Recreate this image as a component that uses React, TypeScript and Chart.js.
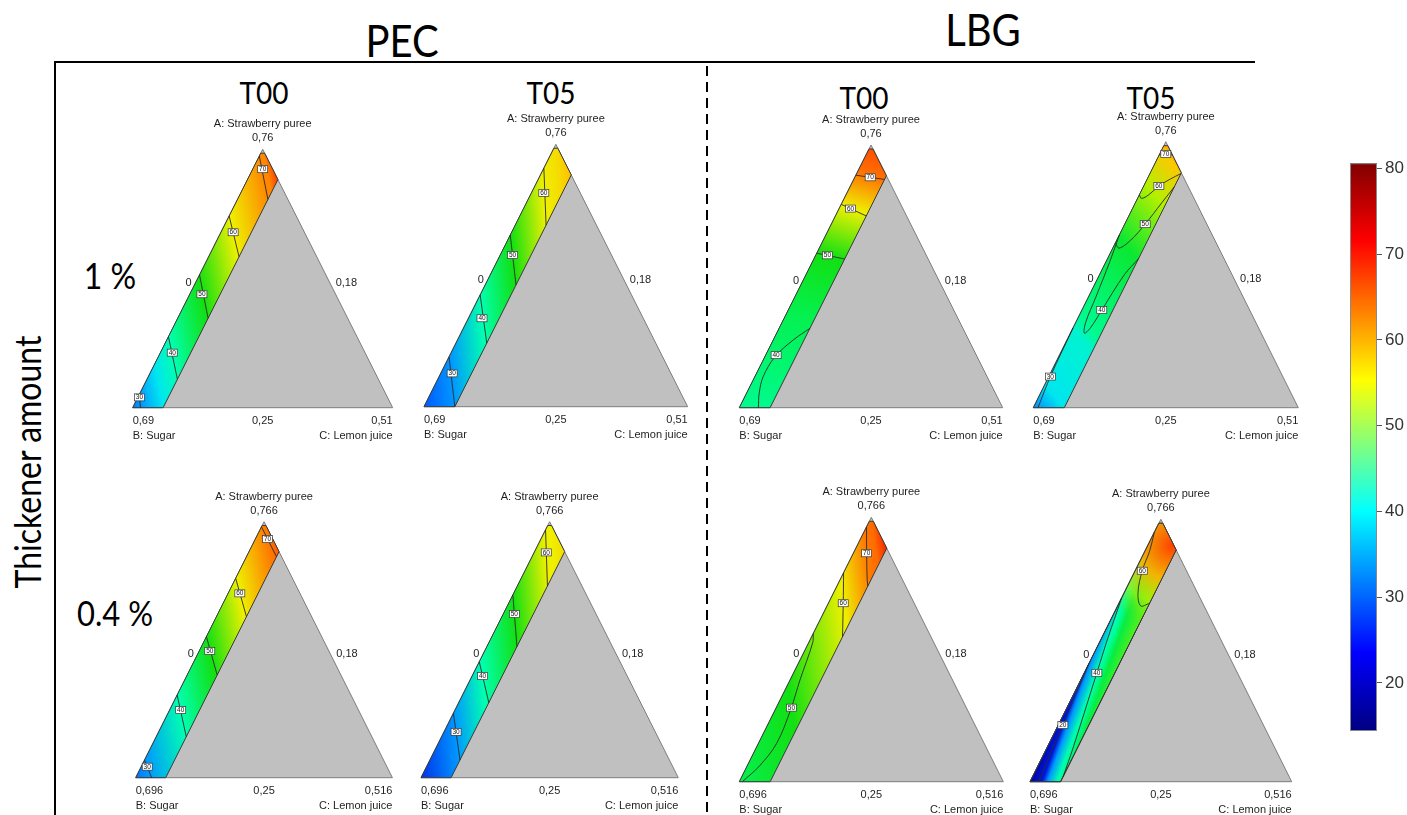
import React, { useEffect, useRef } from 'react';
import { Chart, registerables } from 'chart.js';

Chart.register(...registerables);

type Pt = [number, number];
type Probe = [number, number, number];

// ---------------- texts ----------------
const groupLabels = ['PEC', 'LBG'];
const timeLabels = ['T00', 'T05'];
const thickenerLabels = ['1 %', '0.4 %'];
const yAxisTitle = 'Thickener amount';
const componentNames = ['A: Strawberry puree', 'B: Sugar', 'C: Lemon juice'];
const vertexTicksRow1 = ['0,76', '0,69', '0,51'];
const vertexTicksRow2 = ['0,766', '0,696', '0,516'];
const edgeTicks = ['0', '0,25', '0,18'];

// feasible region of the mixture (pseudo-component fractions)
const lemonMax = 0.117;
const pureeTop = 0.985;

// colour scale used inside the ternary panels
const fillValues = [15, 20, 25, 30, 35, 40, 45, 50, 55, 60, 65, 70, 75, 80];
const fillColors = ['#000096', '#0018dc', '#0058ff', '#0098ff', '#00e0ff', '#00ffb0', '#00f560', '#12e012', '#8cf000', '#eef000', '#ffbe00', '#ff7a00', '#ff3000', '#d20000'];

// colour bar
const barTicks = [20, 30, 40, 50, 60, 70, 80];
const barMin = 14.4;
const barMax = 80.6;
const jetValues = [14.4, 23.5, 40, 55.3, 71.5, 80.6];
const jetColors = ['#000080', '#0000ff', '#00ffff', '#ffff00', '#ff0000', '#800000'];

// ---------------- panel data: [a (puree), t (share of lemon range)] ----------------
// PEC T00, 1 %
const pecT00r1Levels = [30, 40, 50, 60, 70];
const pecT00r1Lines: Pt[][] = [
  [[0.049, 0], [0, 0.26]],
  [[0.275, 0], [0.11, 1]],
  [[0.514, 0], [0.346, 1]],
  [[0.742, 0], [0.584, 1]],
  [[0.974, 0], [0.806, 1]],
];
const pecT00r1Labels: Pt[] = [[0.04, 0.05], [0.213, 0.39], [0.439, 0.4], [0.679, 0.4], [0.923, 0.5]];
const pecT00r1Probes: Probe[] = [[0, 0, 28], [0.04, 0.05, 30], [0, 1, 36], [0.213, 0.39, 40], [0.439, 0.4, 50], [0.679, 0.4, 60], [0.923, 0.5, 69], [1, 0, 69], [0.883, 1, 74]];

// PEC T05, 1 %
const pecT05r1Levels = [30, 40, 50, 60];
const pecT05r1Lines: Pt[][] = [
  [[0.19, 0], [0, 1]],
  [[0.426, 0], [0.242, 1]],
  [[0.654, 0], [0.464, 1]],
  [[0.909, 0], [0.692, 1]],
];
const pecT05r1Labels: Pt[] = [[0.127, 0.37], [0.337, 0.44], [0.578, 0.4], [0.815, 0.4]];
const pecT05r1Probes: Probe[] = [[0, 0, 25], [0.127, 0.37, 30], [0.337, 0.44, 40], [0.578, 0.4, 50], [0.815, 0.4, 60], [1, 0, 62], [0.883, 1, 65]];

// LBG T00, 1 %
const lbgT00r1Levels = [40, 50, 60, 70];
const lbgT00r1Lines: Pt[][] = [
  [[0.302, 1], [0.258, 0.65], [0.194, 0.33], [0.118, 0.27], [0.055, 0.41], [0, 0.62]],
  [[0.588, 0], [0.566, 1]],
  [[0.774, 0], [0.73, 1]],
  [[0.885, 0], [0.869, 1]],
];
const lbgT00r1Labels: Pt[] = [[0.2, 0.34], [0.58, 0.38], [0.758, 0.37], [0.877, 0.5]];
const lbgT00r1Probes: Probe[] = [[0, 0, 42], [0.35, 0.5, 46], [0.58, 0.38, 50], [0.758, 0.37, 60], [0.877, 0.5, 70], [0.883, 1, 71], [1, 0, 73]];

// LBG T05, 1 %
const lbgT05r1Levels = [30, 40, 50, 60, 70];
const lbgT05r1Lines: Pt[][] = [
  [[0, 0.15], [0.12, 0.05], [0.3, 0]],
  [[0.56, 1], [0.5, 0.8], [0.367, 0.64], [0.3, 0.56], [0.28, 0.45], [0.32, 0.32], [0.417, 0.24], [0.55, 0.12], [0.65, 0]],
  [[0.62, 0], [0.6, 0.2], [0.63, 0.45], [0.69, 0.66], [0.77, 0.85], [0.83, 1]],
  [[0.8, 0], [0.787, 0.13], [0.8, 0.3], [0.833, 0.49], [0.86, 0.75], [0.88, 1]],
  [[0.95, 0], [0.954, 0.5], [0.95, 1]],
];
const lbgT05r1Labels: Pt[] = [[0.117, 0.05], [0.367, 0.64], [0.69, 0.66], [0.833, 0.49], [0.954, 0.5]];
const lbgT05r1Probes: Probe[] = [[0, 0, 29], [0, 1, 36], [0.3, 0, 38], [0.3, 0.5, 42], [0.6, 0.5, 48], [0.8, 0.5, 57], [0.883, 1, 64], [1, 0, 67]];

// PEC T00, 0.4 %
const pecT00r2Levels = [30, 40, 50, 60, 70];
const pecT00r2Lines: Pt[][] = [
  [[0.069, 0], [0, 0.53]],
  [[0.323, 0], [0.16, 1]],
  [[0.551, 0], [0.401, 1]],
  [[0.779, 0], [0.629, 1]],
  [[0.98, 0], [0.863, 1]],
];
const pecT00r2Labels: Pt[] = [[0.043, 0.2], [0.264, 0.37], [0.495, 0.35], [0.72, 0.39], [0.932, 0.7]];
const pecT00r2Probes: Probe[] = [[0, 0, 27], [0.043, 0.2, 30], [0.264, 0.37, 40], [0.495, 0.35, 50], [0.72, 0.39, 60], [0.932, 0.7, 70], [1, 0, 70], [0.883, 1, 72]];

// PEC T05, 0.4 %
const pecT05r2Levels = [30, 40, 50, 60];
const pecT05r2Lines: Pt[][] = [
  [[0.252, 0], [0.069, 1]],
  [[0.453, 0], [0.293, 1]],
  [[0.714, 0], [0.512, 1]],
  [[0.968, 0], [0.749, 1]],
];
const pecT05r2Labels: Pt[] = [[0.179, 0.4], [0.397, 0.35], [0.639, 0.37], [0.88, 0.4]];
const pecT05r2Probes: Probe[] = [[0, 0, 22], [0.179, 0.4, 30], [0.397, 0.35, 40], [0.639, 0.37, 50], [0.88, 0.4, 60], [1, 0, 60], [0.883, 1, 62]];

// LBG T00, 0.4 %
const lbgT00r2Levels = [50, 60, 70];
const lbgT00r2Lines: Pt[][] = [
  [[0.56, 0], [0.526, 0.13], [0.385, 0.32], [0.271, 0.5], [0.145, 0.59], [0.06, 0.4], [0, 0.1]],
  [[0.79, 0], [0.675, 0.48], [0.548, 1]],
  [[0.964, 0], [0.864, 0.43], [0.763, 0.88], [0.74, 1]],
];
const lbgT00r2Labels: Pt[] = [[0.28, 0.49], [0.675, 0.48], [0.864, 0.43]];
const lbgT00r2Probes: Probe[] = [[0, 0, 46], [0, 1, 48], [0.28, 0.49, 50], [0.675, 0.48, 60], [0.864, 0.43, 70], [1, 0, 71], [0.883, 1, 76]];

// LBG T05, 0.4 %
const lbgT05r2Levels = [20, 40, 60];
const lbgT05r2Lines: Pt[][] = [
  [[0, 0.28], [0.216, 0.15], [0.45, 0]],
  [[0.02, 1], [0.133, 0.85], [0.415, 0.41], [0.55, 0.2], [0.7, 0]],
  [[0.95, 0], [0.88, 0.15], [0.804, 0.23], [0.72, 0.45], [0.67, 0.75], [0.68, 1]],
];
const lbgT05r2Labels: Pt[] = [[0.216, 0.15], [0.415, 0.41], [0.804, 0.23]];
const lbgT05r2Probes: Probe[] = [[0, 0, 16], [0.216, 0.15, 20], [0.5, 0, 30], [0.415, 0.41, 40], [0, 1, 42], [0.6, 0.5, 47], [0.883, 1, 55]];
const lbgT05r2HotCenter: Pt = [0.9, 0.95];
const lbgT05r2HotValues = [74, 66, 58, 52];

// ---------------- layout (styles, not data) ----------------
// [left of B vertex, bottom line, width, height] in page pixels
const panelFrames = [
  [132.7, 407.7, 260, 258.4],
  [424, 406.7, 263.7, 262.4],
  [739.3, 407.7, 263.4, 262.7],
  [1033.3, 407.7, 265, 266],
  [135.7, 777.7, 256.7, 256],
  [421, 777.7, 257.3, 256],
  [739.3, 781.7, 264, 264.4],
  [1030, 781.7, 261.7, 262.4],
];
const hotOffsets = [0, 0.4, 0.7, 1];
const hotAlphas = [1, 0.92, 0.6, 0];

type Panel = {
  levels: number[];
  lines: Pt[][];
  labels: Pt[];
  probes: Probe[];
  axisDeg: number;
  row: number;
  hot?: { at: Pt; values: number[]; radius: number };
};

const panels: Panel[] = [
  { levels: pecT00r1Levels, lines: pecT00r1Lines, labels: pecT00r1Labels, probes: pecT00r1Probes, axisDeg: 11, row: 0 },
  { levels: pecT05r1Levels, lines: pecT05r1Lines, labels: pecT05r1Labels, probes: pecT05r1Probes, axisDeg: 5, row: 0 },
  { levels: lbgT00r1Levels, lines: lbgT00r1Lines, labels: lbgT00r1Labels, probes: lbgT00r1Probes, axisDeg: 72, row: 0 },
  { levels: lbgT05r1Levels, lines: lbgT05r1Lines, labels: lbgT05r1Labels, probes: lbgT05r1Probes, axisDeg: 40, row: 0 },
  { levels: pecT00r2Levels, lines: pecT00r2Lines, labels: pecT00r2Labels, probes: pecT00r2Probes, axisDeg: 11, row: 1 },
  { levels: pecT05r2Levels, lines: pecT05r2Lines, labels: pecT05r2Labels, probes: pecT05r2Probes, axisDeg: 5, row: 1 },
  { levels: lbgT00r2Levels, lines: lbgT00r2Lines, labels: lbgT00r2Labels, probes: lbgT00r2Probes, axisDeg: 8, row: 1 },
  { levels: lbgT05r2Levels, lines: lbgT05r2Lines, labels: lbgT05r2Labels, probes: lbgT05r2Probes, axisDeg: -20, row: 1, hot: { at: lbgT05r2HotCenter, values: lbgT05r2HotValues, radius: 0.33 } },
];

// ---------------- helpers ----------------
function toXY(a: number, t: number) {
  const c = t * Math.min(lemonMax, Math.max(0, 1 - a));
  return { x: c + a / 2, y: a };
}

function hexRgb(h: string) {
  return [parseInt(h.slice(1, 3), 16), parseInt(h.slice(3, 5), 16), parseInt(h.slice(5, 7), 16)];
}

function valueRgb(v: number, vals: number[], cols: string[]) {
  if (v <= vals[0]) return hexRgb(cols[0]);
  for (let i = 1; i < vals.length; i++) {
    if (v <= vals[i]) {
      const f = (v - vals[i - 1]) / (vals[i] - vals[i - 1]);
      const c0 = hexRgb(cols[i - 1]);
      const c1 = hexRgb(cols[i]);
      return c0.map((c, k) => Math.round(c + (c1[k] - c) * f));
    }
  }
  return hexRgb(cols[cols.length - 1]);
}

function fillColor(v: number, alpha = 1) {
  const [r, g, b] = valueRgb(v, fillValues, fillColors);
  return `rgba(${r},${g},${b},${alpha})`;
}

const stripCorners: Pt[] = [[0, 0], [pureeTop, 0], [pureeTop, 1], [1 - lemonMax, 1], [0, 1]];

function stripGradient(chart: any, p: Panel) {
  const { ctx, chartArea, scales } = chart;
  if (!chartArea || !scales.x) return fillColor(45);
  const xs = scales.x;
  const ys = scales.y;
  const th = (p.axisDeg * Math.PI) / 180;
  const nx = Math.cos(th);
  const ny = -Math.sin(th);
  const proj = (a: number, t: number) => {
    const q = toXY(a, t);
    return xs.getPixelForValue(q.x) * nx + ys.getPixelForValue(q.y) * ny;
  };
  let lo = Infinity;
  let hi = -Infinity;
  stripCorners.forEach(([a, t]) => {
    const s = proj(a, t);
    lo = Math.min(lo, s);
    hi = Math.max(hi, s);
  });
  const g = ctx.createLinearGradient(nx * lo, ny * lo, nx * hi, ny * hi);
  const stops = p.probes
    .map(([a, t, v]) => [Math.min(1, Math.max(0, (proj(a, t) - lo) / (hi - lo))), v])
    .sort((m, n) => m[0] - n[0]);
  stops.forEach(([f, v]) => g.addColorStop(f, fillColor(v)));
  return g;
}

function hotGradient(chart: any, p: Panel) {
  const { ctx, chartArea, scales } = chart;
  if (!chartArea || !scales.x || !p.hot) return 'rgba(0,0,0,0)';
  const q = toXY(p.hot.at[0], p.hot.at[1]);
  const cx = scales.x.getPixelForValue(q.x);
  const cy = scales.y.getPixelForValue(q.y);
  const r = p.hot.radius * (chartArea.bottom - chartArea.top);
  const g = ctx.createRadialGradient(cx, cy, 0, cx, cy, r);
  p.hot.values.forEach((v, i) => g.addColorStop(hotOffsets[i], fillColor(v, hotAlphas[i])));
  return g;
}

function makeDecor(p: Panel) {
  return {
    id: 'panelDecor',
    afterDatasetsDraw(chart: any) {
      const { ctx, scales } = chart;
      const xs = scales.x;
      const ys = scales.y;
      const ticks = p.row === 0 ? vertexTicksRow1 : vertexTicksRow2;
      const apexX = xs.getPixelForValue(0.5);
      const topY = ys.getPixelForValue(1);
      const lx = xs.getPixelForValue(0);
      const rx = xs.getPixelForValue(1);
      const by = ys.getPixelForValue(0);
      const midY = ys.getPixelForValue(0.5);
      ctx.save();
      ctx.fillStyle = '#1e1e1e';
      ctx.font = '11px "Liberation Sans", Arial, sans-serif';
      ctx.textBaseline = 'middle';
      ctx.textAlign = 'center';
      ctx.fillText(componentNames[0], apexX, topY - 25);
      ctx.fillText(ticks[0], apexX, topY - 11);
      ctx.fillText(edgeTicks[1], xs.getPixelForValue(0.5), by + 13);
      ctx.textAlign = 'left';
      ctx.fillText(ticks[1], lx, by + 13);
      ctx.fillText(componentNames[1], lx, by + 28);
      ctx.fillText(edgeTicks[2], xs.getPixelForValue(0.75) + 8, midY + 4.5);
      ctx.textAlign = 'right';
      ctx.fillText(ticks[2], rx, by + 13);
      ctx.fillText(componentNames[2], rx, by + 28);
      ctx.fillText(edgeTicks[0], xs.getPixelForValue(0.25) - 6, midY + 4.5);
      // contour labels
      ctx.font = '6.5px "Liberation Sans", Arial, sans-serif';
      ctx.textAlign = 'center';
      p.labels.forEach((l, i) => {
        const q = toXY(l[0], l[1]);
        const px = xs.getPixelForValue(q.x);
        const py = ys.getPixelForValue(q.y);
        ctx.fillStyle = '#ffffff';
        ctx.fillRect(px - 5, py - 3.5, 10, 7);
        ctx.strokeStyle = '#333333';
        ctx.lineWidth = 0.7;
        ctx.strokeRect(px - 5, py - 3.5, 10, 7);
        ctx.fillStyle = '#111111';
        ctx.fillText(String(p.levels[i]), px, py + 0.3);
      });
      ctx.restore();
    },
  };
}

function PanelChart({ panel, frame }: { panel: Panel; frame: number[] }) {
  const ref = useRef<HTMLCanvasElement>(null);
  const [L, B, W, H] = frame;
  const cl = Math.floor(L - 24);
  const ct = Math.floor(B - H - 46);
  const cw = Math.ceil(L + W + 24) - cl;
  const ch = Math.ceil(B + 40) - ct;
  useEffect(() => {
    if (!ref.current) return;
    const pad = { left: L - cl, right: cl + cw - (L + W), top: B - H - ct, bottom: ct + ch - B };
    const tri = [toXY(0, 0), { x: 1, y: 0 }, toXY(1, 0), toXY(0, 0)];
    const strip = stripCorners.concat([[0, 0]]).map(([a, t]) => toXY(a, t));
    const datasets: any[] = [
      { data: tri, fill: 'shape', backgroundColor: '#c0c0c0', borderColor: '#7c7c7c', borderWidth: 1, order: 10, clip: false },
      { data: strip, fill: 'shape', backgroundColor: (c: any) => stripGradient(c.chart, panel), borderColor: '#3a3a3a', borderWidth: 1, order: 9, clip: false },
    ];
    if (panel.hot) {
      datasets.push({ data: strip, fill: 'shape', backgroundColor: (c: any) => hotGradient(c.chart, panel), borderColor: '#3a3a3a', borderWidth: 1, order: 8, clip: false });
    }
    panel.lines.forEach((ln) => {
      datasets.push({
        data: ln.map(([a, t]) => toXY(a, t)),
        fill: false,
        borderColor: '#2a2a2a',
        borderWidth: 0.9,
        tension: ln.length > 2 ? 0.35 : 0,
        order: 5,
        clip: false,
      });
    });
    const chart = new Chart(ref.current, {
      type: 'line',
      data: { datasets },
      options: {
        responsive: false,
        animation: false,
        events: [],
        layout: { padding: pad },
        plugins: { legend: { display: false }, tooltip: { enabled: false } },
        elements: { point: { radius: 0 } },
        scales: {
          x: { type: 'linear', min: 0, max: 1, display: false },
          y: { type: 'linear', min: 0, max: 1, display: false },
        },
      },
      plugins: [makeDecor(panel)],
    } as any);
    return () => chart.destroy();
  }, []);
  return <canvas ref={ref} width={cw} height={ch} style={{ position: 'absolute', left: cl, top: ct }} />;
}

function ColorBar() {
  const ref = useRef<HTMLCanvasElement>(null);
  useEffect(() => {
    if (!ref.current) return;
    const barFill = {
      id: 'barFill',
      beforeDatasetsDraw(chart: any) {
        const { ctx, chartArea: a, scales } = chart;
        const ys = scales.y;
        const g = ctx.createLinearGradient(0, ys.getPixelForValue(barMin), 0, ys.getPixelForValue(barMax));
        jetValues.forEach((v, i) => g.addColorStop((v - barMin) / (barMax - barMin), jetColors[i]));
        ctx.save();
        ctx.fillStyle = g;
        ctx.fillRect(a.left, a.top, a.right - a.left, a.bottom - a.top);
        ctx.strokeStyle = '#8a8a8a';
        ctx.lineWidth = 1;
        ctx.strokeRect(a.left + 0.5, a.top + 0.5, a.right - a.left - 1, a.bottom - a.top - 1);
        ctx.restore();
      },
    };
    const chart = new Chart(ref.current, {
      type: 'line',
      data: { datasets: [] },
      options: {
        responsive: false,
        animation: false,
        events: [],
        layout: { padding: { left: 3, top: 13, bottom: 19, right: 0 } },
        plugins: { legend: { display: false }, tooltip: { enabled: false } },
        scales: {
          x: { type: 'linear', min: 0, max: 1, display: false },
          y: {
            type: 'linear',
            position: 'right',
            min: barMin,
            max: barMax,
            afterBuildTicks: (s: any) => {
              s.ticks = barTicks.map((v) => ({ value: v }));
            },
            afterFit: (s: any) => {
              s.width = 30;
            },
            ticks: { color: '#333333', font: { size: 17, family: '"Liberation Sans", Arial, sans-serif' }, padding: 3 },
            grid: { drawOnChartArea: false, drawTicks: true, tickLength: 5, color: '#555555' },
            border: { display: false },
          },
        },
      },
      plugins: [barFill],
    } as any);
    return () => chart.destroy();
  }, []);
  return <canvas ref={ref} width={60} height={600} style={{ position: 'absolute', left: 1347, top: 150 }} />;
}

const textLayout = [
  { text: groupLabels[0], x: 402, y: 40, size: 40, rot: 0 },
  { text: groupLabels[1], x: 983, y: 29, size: 40, rot: 0 },
  { text: timeLabels[0], x: 264, y: 92, size: 28, rot: 0 },
  { text: timeLabels[1], x: 551, y: 92, size: 28, rot: 0 },
  { text: timeLabels[0], x: 864, y: 97, size: 28, rot: 0 },
  { text: timeLabels[1], x: 1151, y: 97, size: 28, rot: 0 },
  { text: thickenerLabels[0], x: 110, y: 276, size: 32, rot: 0 },
  { text: thickenerLabels[1], x: 115, y: 613, size: 31, rot: 0 },
  { text: yAxisTitle, x: 28, y: 462, size: 32, rot: -90 },
];

export default function App() {
  return (
    <div style={{ position: 'fixed', left: 0, top: 0, width: 1407, height: 815, overflow: 'hidden', background: '#ffffff' }}>
      <svg width={1407} height={815} style={{ position: 'absolute', left: 0, top: 0 }}>
        <line x1={55} y1={62} x2={1255} y2={62} stroke="#000" strokeWidth={2} />
        <line x1={55} y1={61} x2={55} y2={815} stroke="#000" strokeWidth={2} />
        <line x1={707} y1={66} x2={707} y2={815} stroke="#000" strokeWidth={2} strokeDasharray="10 6" />
      </svg>
      {textLayout.map((t, i) => (
        <div
          key={i}
          style={{
            position: 'absolute',
            left: t.x,
            top: t.y,
            transform: `translate(-50%, -50%) rotate(${t.rot}deg) scaleY(1.12)`,
            fontFamily: 'Lato, "Open Sans", sans-serif',
            fontSize: t.size,
            lineHeight: 1,
            whiteSpace: 'nowrap',
            color: '#000',
          }}
        >
          {t.text}
        </div>
      ))}
      {panels.map((p, i) => (
        <PanelChart key={i} panel={p} frame={panelFrames[i]} />
      ))}
      <ColorBar />
    </div>
  );
}
